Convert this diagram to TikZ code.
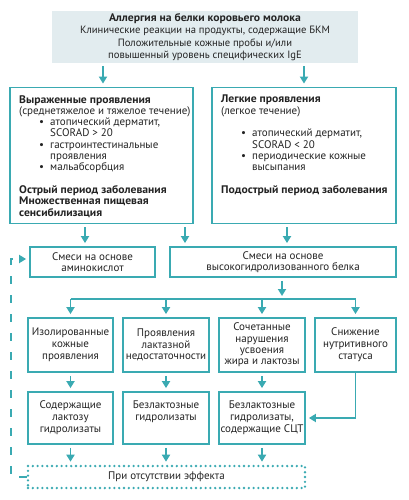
\documentclass[tikz,border=0pt]{standalone}
\usepackage{fontspec}
\setmainfont{PT Sans}[BoldFeatures={FakeStretch=1.06}]
\usetikzlibrary{arrows.meta}
\definecolor{tealc}{RGB}{58,170,178}
\definecolor{fillc}{RGB}{226,236,239}
\definecolor{txtc}{RGB}{35,35,35}
\newcommand\mybul{\hspace*{20pt}\makebox[11pt][l]{\textbullet}}
\newcommand\myind{\hspace*{31pt}}
\begin{document}
\begin{tikzpicture}[x=1pt,y=-1pt,
  font=\fontsize{11}{11.3}\selectfont,
  box/.style={draw=tealc, line width=1.8pt, inner sep=0pt, align=center, text=txtc},
  txtnode/.style={inner sep=0pt, align=left, text=txtc, anchor=north west},
  arr/.style={draw=tealc, line width=1.8pt, -{Triangle[length=7pt,width=8pt]}, shorten >=3pt, shorten <=3pt},
  lnk/.style={draw=tealc, line width=1.8pt},
  dotbox/.style={draw=tealc, line width=2.6pt, dash pattern=on 0pt off 4.8pt, line cap=round, inner sep=0pt, text=txtc},
  dsh/.style={draw=tealc, line width=1.8pt, dash pattern=on 8pt off 11pt, -{Triangle[length=7pt,width=8pt]}, shorten >=3pt}]
\useasboundingbox (0,0) rectangle (408,500);

% top
\node[fill=fillc, minimum width=306pt, minimum height=52pt, inner sep=0pt, align=center, text=txtc,
      font=\fontsize{10.6}{12.3}\selectfont] (top) at (205,37)
  {{\fontsize{11}{12.3}\selectfont\textbf{Аллергия на белки коровьего молока}}\\
   Клинические реакции на продукты, содержащие БКМ\\
   Положительные кожные пробы и/или\\
   повышенный уровень специфических IgE};

% second level
\node[box, minimum width=183pt, minimum height=136pt] (sev) at (101.5,155.5) {};
\node[box, minimum width=184pt, minimum height=136pt] (mild) at (304,155.5) {};
\node[txtnode] (sevtxt) at (19,95)
  {\textbf{Выраженные проявления}\\
   (среднетяжелое и тяжелое течение)\\
   \mybul атопический дерматит,\\
   \myind SCORAD > 20\\
   \mybul гастроинтестинальные\\
   \myind проявления\\
   \mybul мальабсорбция\\[11.3pt]
   \textbf{Острый период заболевания}\\
   \textbf{Множественная пищевая}\\
   \textbf{сенсибилизация}};
\node[txtnode] (mildtxt) at (221,95)
  {\textbf{Легкие проявления}\\
   (легкое течение)\\[11.3pt]
   \mybul атопический дерматит,\\
   \myind SCORAD < 20\\
   \mybul периодические кожные\\
   \myind высыпания\\[11.3pt]
   \textbf{Подострый период заболевания}};

% formulas
\node[box, minimum width=125pt, minimum height=30pt, font=\fontsize{11}{11.3}\selectfont] (amino) at (92.5,262)
  {Смеси на основе\\аминокислот};
\node[box, minimum width=226pt, minimum height=30pt, font=\fontsize{11}{11.3}\selectfont] (hydro) at (283,262)
  {Смеси на основе\\высокогидролизованного белка};

% third row
\node[box, minimum width=85pt, minimum height=54pt, font=\fontsize{11}{11.8}\selectfont] (r3a) at (70.5,345)
  {Изолированные\\кожные\\проявления};
\node[box, minimum width=86pt, minimum height=54pt, font=\fontsize{11}{11.8}\selectfont] (r3b) at (166,345)
  {Проявления\\лактазной\\недостаточности};
\node[box, minimum width=86pt, minimum height=54pt] (r3c) at (262,345)
  {Сочетанные\\нарушения\\усвоения\\жира и лактозы};
\node[box, minimum width=81pt, minimum height=54pt, font=\fontsize{11}{11.8}\selectfont] (r3d) at (355.5,345)
  {Снижение\\нутритивного\\статуса};

% fourth row
\node[box, minimum width=85pt, minimum height=52pt, font=\fontsize{11}{12}\selectfont] (r4a) at (70.5,418)
  {Содержащие\\лактозу\\гидролизаты};
\node[box, minimum width=86pt, minimum height=52pt, font=\fontsize{11}{12}\selectfont] (r4b) at (166,418)
  {Безлактозные\\гидролизаты\\\strut};
\node[box, minimum width=86pt, minimum height=52pt, font=\fontsize{11}{12}\selectfont] (r4c) at (262,418)
  {Безлактозные\\гидролизаты,\\содержащие СЦТ};

% no effect
\node[dotbox, minimum width=277pt, minimum height=22pt] (none) at (166.5,477)
  {При отсутствии эффекта};

% helper columns
\coordinate (cA) at (103,0);
\coordinate (cB) at (304,0);
\coordinate (cC) at (85,0);
\coordinate (cD) at (185,0);
\coordinate (cE) at (287,0);
\coordinate (cF) at (282,0);
\coordinate (hl) at (0,299);
\coordinate (lp) at (11,0);

% connectors
\draw[arr] (top.south -| cA) -- (sev.north -| cA);
\draw[arr] (top.south -| cB) -- (mild.north -| cB);
\draw[arr] (sev.south -| cC) -- (amino.north -| cC);
\draw[arr] (sev.south -| cD) -- (hydro.north -| cD);
\draw[arr] (mild.south -| cE) -- (hydro.north -| cE);
\draw[arr] (hydro.south -| cF) -- (hl -| cF);
\draw[lnk] (hl -| r3a) -- (hl -| r3d);
\draw[arr, shorten <=0pt] (hl -| r3a) -- (r3a.north);
\draw[arr, shorten <=0pt] (hl -| r3b) -- (r3b.north);
\draw[arr, shorten <=0pt] (hl -| r3c) -- (r3c.north);
\draw[arr, shorten <=0pt] (hl -| r3d) -- (r3d.north);
\draw[arr] (r3a.south) -- (r4a.north);
\draw[arr] (r3b.south) -- (r4b.north);
\draw[arr] (r3c.south) -- (r4c.north);
\draw[arr, shorten <=0pt] (r3d.south) |- (r4c.east);
\draw[arr] (r4a.south) -- (r4a.south |- none.north);
\draw[arr] (r4b.south) -- (r4b.south |- none.north);
\draw[arr] (r4c.south) -- (r4c.south |- none.north);
\draw[dsh] (none.west) -| ([yshift=3pt]amino.west -| lp) -- ([yshift=3pt]amino.west);
\end{tikzpicture}
\end{document}
